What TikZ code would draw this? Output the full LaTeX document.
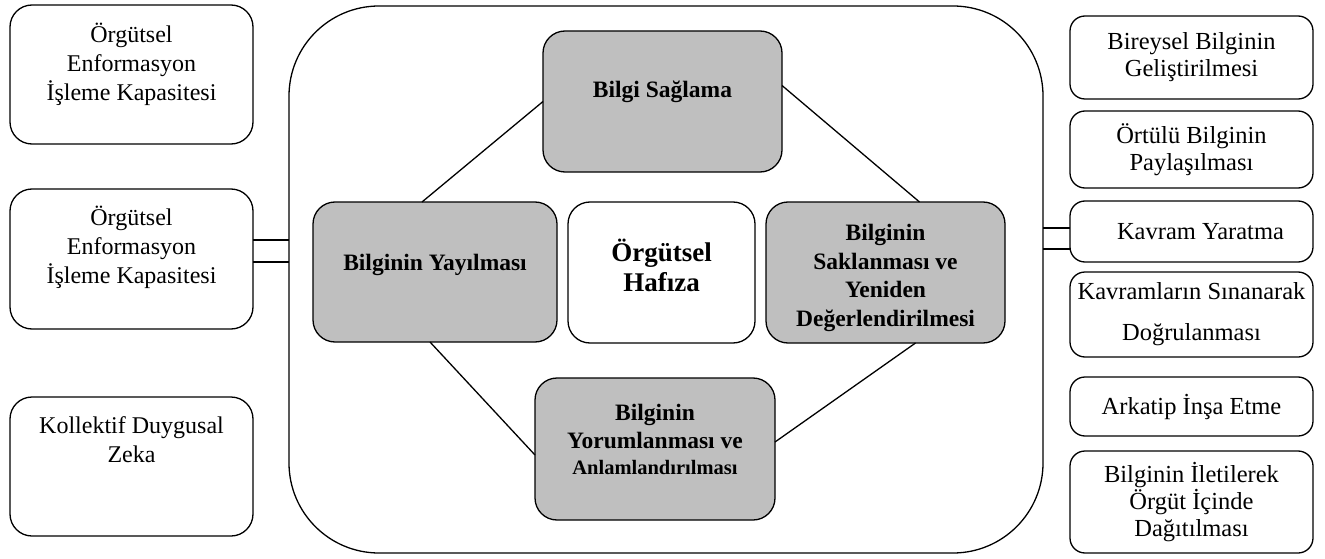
\documentclass[tikz,border=0pt]{standalone}
\usepackage{fontspec}
\setmainfont{Liberation Serif}
\usepackage{tikz}

\definecolor{kutugri}{RGB}{191,191,191}
\tikzset{
	cizgi/.style={line width=1.3pt},
	kutu/.style={draw, cizgi, anchor=north west, inner sep=0pt, outer sep=0pt, align=center, font=\fontsize{24}{28}\selectfont},
	solkutu/.style={kutu, rounded corners=22pt, minimum width=243pt, font=\fontsize{24}{29}\selectfont},
	sagkutu/.style={kutu, rounded corners=15pt, minimum width=243pt, font=\fontsize{24.5}{27}\selectfont},
	surec/.style={kutu, rounded corners=22pt, fill=kutugri, font=\bfseries\fontsize{23.5}{28.5}\selectfont}
}

\begin{document}
\begin{tikzpicture}[x=1pt,y=-1pt]
		\useasboundingbox (0,0) rectangle (1325,559);
		\node[draw, cizgi, rounded corners=90pt, anchor=north west, inner sep=0pt, outer sep=0pt, minimum width=754pt, minimum height=547pt] (dis) at (289,6) {};
		
		\node[solkutu, text height=96pt, text depth=43pt] (sol1) at (10,5) {Örgütsel\\Enformasyon\\İşleme Kapasitesi};
		\node[solkutu, text height=94pt, text depth=46pt] (sol2) at (10,189) {Örgütsel\\Enformasyon\\İşleme Kapasitesi};
		\node[solkutu, text height=65pt, text depth=74pt] (sol3) at (10,397) {Kollektif Duygusal\\Zeka};
		
		\node[sagkutu, minimum height=83pt] (sag1) at (1070,16) {Bireysel Bilginin\\Geliştirilmesi};
		\node[sagkutu, minimum height=77pt] (sag2) at (1070,111) {Örtülü Bilginin\\Paylaşılması};
		\node[sagkutu, minimum height=61pt] (sag3) at (1070,201) {\hspace*{18pt}Kavram Yaratma};
		\node[sagkutu, minimum height=85pt] (sag4) at (1070,272) {Kavramların Sınanarak\\[14pt]Doğrulanması};
		\node[sagkutu, minimum height=59pt] (sag5) at (1070,377) {Arkatip İnşa Etme};
		\node[sagkutu, minimum height=102pt] (sag6) at (1070,451) {Bilginin İletilerek\\Örgüt İçinde\\Dağıtılması};
		
		\node[surec, minimum width=239pt, text height=67pt, text depth=74pt] (bs) at (543,31) {Bilgi Sağlama};
		\node[surec, minimum width=244pt, text height=68pt, text depth=72pt] (yay) at (313,202) {Bilginin Yayılması};
		\node[kutu, rounded corners=22pt, minimum width=187pt, text height=89pt, text depth=52pt, font=\bfseries\fontsize{27}{30}\selectfont] (haf) at (568,202) {Örgütsel\\Hafıza};
		\node[surec, minimum width=239pt, text height=124pt, text depth=17pt] (sak) at (766,202) {Bilginin\\Saklanması ve\\Yeniden\\Değerlendirilmesi};
		\node[surec, minimum width=240pt, text height=96pt, text depth=46pt] (yor) at (535,378) {Bilginin\\Yorumlanması ve\\[-3pt]{\fontsize{20.5}{24}\selectfont Anlamlandırılması}};
		
		\draw[cizgi] (bs.west) -- ([xshift=-13pt]yay.north);
		\draw[cizgi] ([yshift=16pt]bs.east) -- ([xshift=34pt]sak.north);
		\draw[cizgi] ([xshift=-5pt]yay.south) -- ([yshift=-6pt]yor.west);
		\draw[cizgi] ([xshift=30pt]sak.south) -- ([yshift=7pt]yor.east);
		
		\draw[cizgi] (sol2.east |- 0,240) -- (dis.west |- 0,240);
		\draw[cizgi] (sol2.east |- 0,262) -- (dis.west |- 0,262);
		\draw[cizgi] (dis.east |- 0,228) -- (sag3.west |- 0,228);
		\draw[cizgi] (dis.east |- 0,249) -- (sag3.west |- 0,249);
	\end{tikzpicture}
\end{document}
